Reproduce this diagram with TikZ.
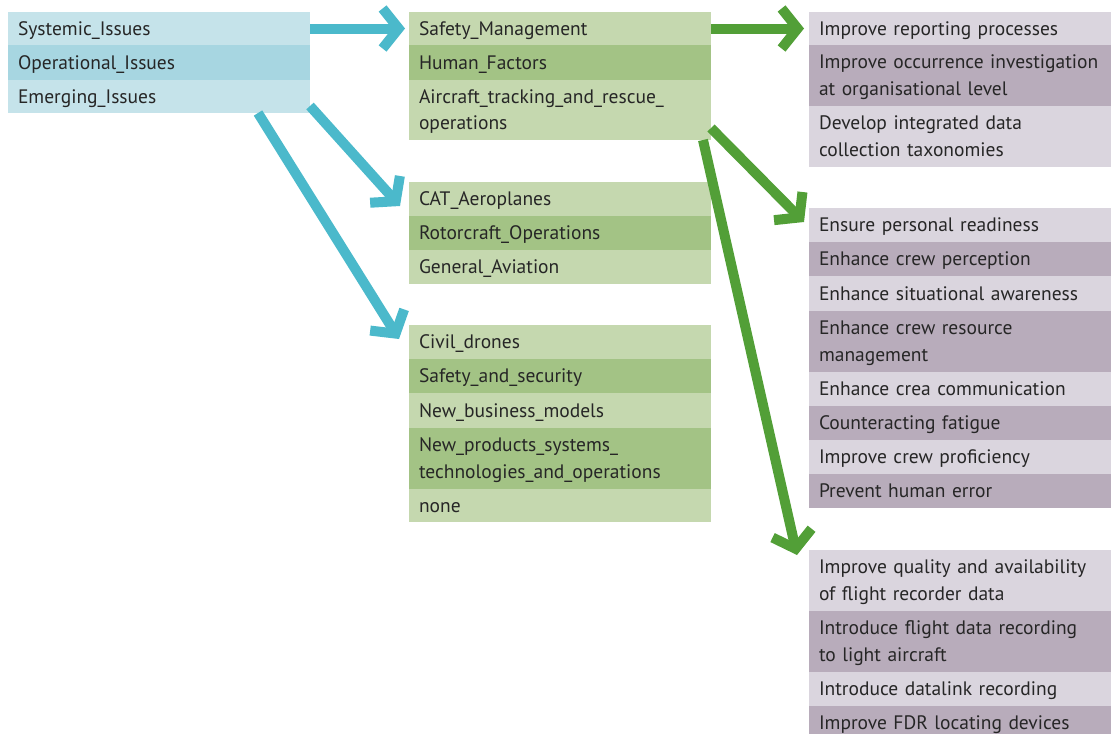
\documentclass[tikz,border=0pt]{standalone}
\usepackage{fontspec}
\setmainfont{PT Sans}
\usetikzlibrary{arrows.meta}
\definecolor{bL}{HTML}{C5E3EA}
\definecolor{bD}{HTML}{A7D6E1}
\definecolor{gL}{HTML}{C5D8AF}
\definecolor{gD}{HTML}{A3C385}
\definecolor{pL}{HTML}{DAD5DE}
\definecolor{pD}{HTML}{B8ACBB}
\definecolor{bArr}{HTML}{4BB9CB}
\definecolor{gArr}{HTML}{529F37}
\tikzset{
  rowbox/.style={anchor=north west, minimum width=302pt, text width=282pt,
    inner xsep=10pt, inner ysep=0pt, align=left, outer sep=0pt,
    text height=17pt, text depth=4pt,
    font=\fontsize{19.5}{26.5}\selectfont, text=black!85},
  two/.style={text depth=30.5pt},
  arr/.style={line width=10pt, -{Straight Barb[length=16pt,width=40pt]}},
  bluearr/.style={arr, draw=bArr},
  greenarr/.style={arr, draw=gArr}
}
\begin{document}
\begin{tikzpicture}[x=1pt,y=-1pt]
\useasboundingbox (0,0) rectangle (1112,734);
% left
\node[rowbox, fill=bL, minimum height=33pt] (sys) at (8,12) {Systemic\_Issues};
\node[rowbox, fill=bD, minimum height=35pt] (ope) at (8,45) {Operational\_Issues};
\node[rowbox, fill=bL, minimum height=33pt] (eme) at (8,80) {Emerging\_Issues};
% middle 1
\node[rowbox, fill=gL, minimum height=33pt] (sm) at (409,12) {Safety\_Management};
\node[rowbox, fill=gD, minimum height=35pt] (hf) at (409,45) {Human\_Factors};
\node[rowbox, two, fill=gL, minimum height=60pt] (atr) at (409,80) {Aircraft\_tracking\_and\_rescue\_\\operations};
% middle 2
\node[rowbox, fill=gL, minimum height=34pt] (cat) at (409,182) {CAT\_Aeroplanes};
\node[rowbox, fill=gD, minimum height=34pt] (rot) at (409,216) {Rotorcraft\_Operations};
\node[rowbox, fill=gL, minimum height=34pt] (gen) at (409,250) {General\_Aviation};
% middle 3
\node[rowbox, fill=gL, minimum height=34pt] (civ) at (409,325) {Civil\_drones};
\node[rowbox, fill=gD, minimum height=34pt] (sas) at (409,359) {Safety\_and\_security};
\node[rowbox, fill=gL, minimum height=35pt] (nbm) at (409,393) {New\_business\_models};
\node[rowbox, two, fill=gD, minimum height=61pt] (npt) at (409,428) {New\_products\_systems\_\\technologies\_and\_operations};
\node[rowbox, fill=gL, minimum height=33pt] (non) at (409,489) {none};
% right 1
\node[rowbox, fill=pL, minimum height=33pt] (r11) at (809,12) {Improve reporting processes};
\node[rowbox, two, fill=pD, minimum height=61pt] (r12) at (809,45) {Improve occurrence investigation\\at organisational level};
\node[rowbox, two, fill=pL, minimum height=61pt] (r13) at (809,106) {Develop integrated data\\collection taxonomies};
% right 2
\node[rowbox, fill=pL, minimum height=34pt] (r21) at (809,208) {Ensure personal readiness};
\node[rowbox, fill=pD, minimum height=34pt] (r22) at (809,242) {Enhance crew perception};
\node[rowbox, fill=pL, minimum height=35pt] (r23) at (809,276) {Enhance situational awareness};
\node[rowbox, two, fill=pD, minimum height=61pt] (r24) at (809,311) {Enhance crew resource\\management};
\node[rowbox, fill=pL, minimum height=34pt] (r25) at (809,372) {Enhance crea communication};
\node[rowbox, fill=pD, minimum height=34pt] (r26) at (809,406) {Counteracting fatigue};
\node[rowbox, fill=pL, minimum height=34pt] (r27) at (809,440) {Improve crew proficiency};
\node[rowbox, fill=pD, minimum height=34pt] (r28) at (809,474) {Prevent human error};
% right 3
\node[rowbox, two, fill=pL, minimum height=61pt] (r31) at (809,550) {Improve quality and availability\\of flight recorder data};
\node[rowbox, two, fill=pD, minimum height=61pt] (r32) at (809,611) {Introduce flight data recording\\to light aircraft};
\node[rowbox, fill=pL, minimum height=34pt] (r33) at (809,672) {Introduce datalink recording};
\node[rowbox, fill=pD, minimum height=34pt] (r34) at (809,706) {Improve FDR locating devices};
% arrows
\draw[bluearr] (sys.east) -- ([xshift=-4pt]sm.west);
\draw[bluearr] ([yshift=7pt]eme.south east) -- ([xshift=-9pt,yshift=-24pt]cat.north west);
\draw[bluearr] ([xshift=-52pt]eme.south east) -- ([xshift=-10pt,yshift=-14pt]civ.north west);
\draw[greenarr] (sm.east) -- ([xshift=-5pt]r11.west);
\draw[greenarr] ([yshift=12pt]atr.south east) -- ([xshift=-5pt,yshift=-14pt]r21.north west);
\draw[greenarr] ([xshift=-8pt]atr.south east) -- ([xshift=-12pt,yshift=-5pt]r31.north west);
\end{tikzpicture}
\end{document}
